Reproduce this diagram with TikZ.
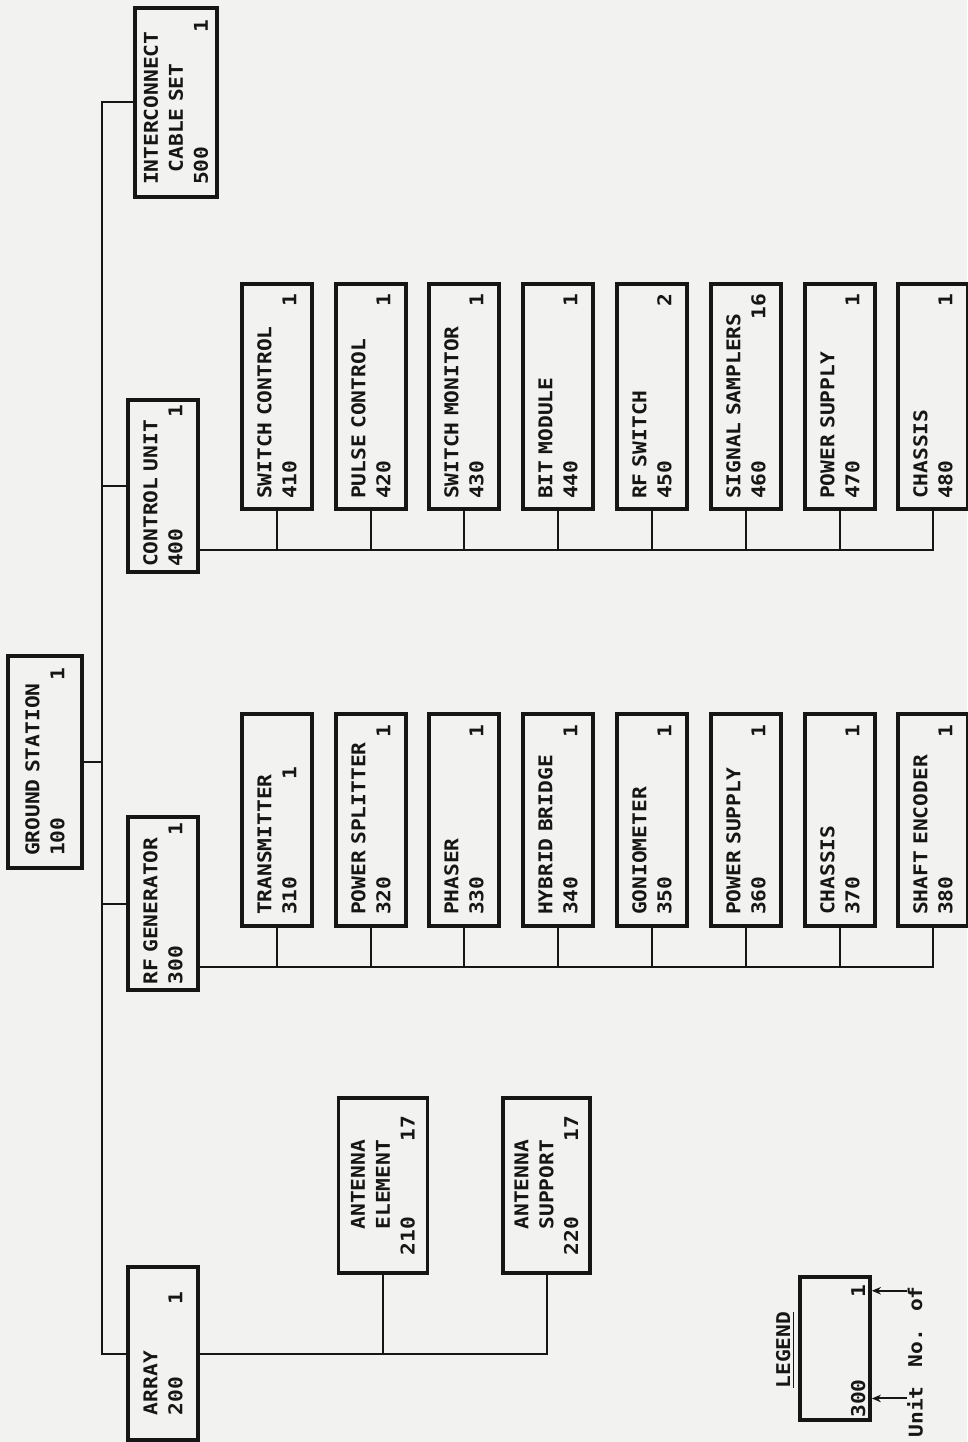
\documentclass[tikz,border=0pt]{standalone}
\usepackage{fontspec}
\usepackage{tikz}
\usetikzlibrary{arrows.meta}
\usepackage{xcolor}
\newfontfamily\partfont[FakeStretch=1.12]{DejaVu Sans Mono Bold}
\definecolor{paper}{RGB}{242,242,240}
\definecolor{ink}{RGB}{22,22,22}

\begin{document}
\begin{tikzpicture}[
    x=0.02cm, y=-0.02cm,
    every node/.style={font=\partfont\fontsize{10.8}{14.2}\selectfont, text=ink},
    partbox/.style={draw=ink, line width=0.075cm, rotate=90, inner sep=0pt, align=left},
    topbox/.style={partbox, minimum width=3.46cm, minimum height=1.4cm, text width=3.24cm},
    rfbox/.style={partbox, minimum width=4.24cm, minimum height=1.4cm, text width=3.8cm},
    ctrlbox/.style={partbox, minimum width=4.5cm, minimum height=1.4cm, text width=4.1cm},
    antbox/.style={partbox, minimum width=3.5cm, minimum height=1.78cm, text width=2.78cm},
    wire/.style={draw=ink, line width=0.04cm},
    pointer/.style={wire, -{Stealth[length=1.8mm, width=1.5mm]}},
    legendtext/.style={rotate=90, inner sep=0pt}
]
    \useasboundingbox (0,0) rectangle (967,1442);
    \fill[paper] (0,0) rectangle (967,1442);

    % Top level
    \node[partbox, minimum width=4.24cm, minimum height=1.48cm, text width=3.76cm] (station) at (45,762) {GROUND STATION\\100\hfill 1};
    \node[partbox, minimum width=3.78cm, minimum height=1.64cm, text width=3.3cm] (cable) at (176,102.5) {INTERCONNECT\\\phantom{I}CABLE SET\\500\hfill 1};
    \node[topbox, minimum width=3.44cm] (ctrl) at (163,486) {CONTROL UNIT\\400\hfill 1};
    \node[topbox] (rfgen) at (163,903.5) {RF GENERATOR\\300\hfill 1};
    \node[topbox, text width=2.46cm] (array) at (163,1353.5) {ARRAY\\200\hfill 1};

    % Control unit parts
    \node[ctrlbox] (swcontrol) at (277,396.5) {SWITCH CONTROL\\410\hfill 1};
    \node[ctrlbox] (pulse) at (371,396.5) {PULSE CONTROL\\420\hfill 1};
    \node[ctrlbox] (monitor) at (464,396.5) {SWITCH MONITOR\\430\hfill 1};
    \node[ctrlbox] (bitmod) at (558,396.5) {BIT MODULE\\440\hfill 1};
    \node[ctrlbox] (rfswitch) at (652,396.5) {RF SWITCH\\450\hfill 2};
    \node[ctrlbox] (samplers) at (746,396.5) {SIGNAL SAMPLERS\\460\hfill 16};
    \node[ctrlbox] (ctrlsupply) at (840,396.5) {POWER SUPPLY\\470\hfill 1};
    \node[ctrlbox] (ctrlchassis) at (933,396.5) {CHASSIS\\480\hfill 1};

    % RF generator parts
    \node[rfbox] (transmitter) at (277,820) {TRANSMITTER\\310\hfill 1\hspace*{2.2em}};
    \node[rfbox] (splitter) at (371,820) {POWER SPLITTER\\320\hfill 1};
    \node[rfbox] (phaser) at (464,820) {PHASER\\330\hfill 1};
    \node[rfbox] (hybrid) at (558,820) {HYBRID BRIDGE\\340\hfill 1};
    \node[rfbox] (gonio) at (652,820) {GONIOMETER\\350\hfill 1};
    \node[rfbox] (rfsupply) at (746,820) {POWER SUPPLY\\360\hfill 1};
    \node[rfbox] (rfchassis) at (840,820) {CHASSIS\\370\hfill 1};
    \node[rfbox] (encoder) at (933,820) {SHAFT ENCODER\\380\hfill 1};

    % Array parts
    \node[antbox] (element) at (383,1185.5) {\phantom{II}ANTENNA\\\phantom{II}ELEMENT\\210\hfill 17};
    \node[antbox, minimum height=1.74cm] (support) at (546.5,1185.5) {\phantom{II}ANTENNA\\\phantom{II}SUPPORT\\220\hfill 17};

    % Trunk
    \coordinate (trunk) at (102,762);
    \draw[wire] (station.south) -- (trunk);
    \draw[wire] (cable.north) -| (trunk) |- (array.north);
    \draw[wire] (ctrl.north) -- (ctrl.north -| trunk);
    \draw[wire] (rfgen.north) -- (rfgen.north -| trunk);

    % Control unit bus
    \coordinate (ctrlbus) at ([yshift=0.48cm]ctrl.south west);
    \draw[wire] (ctrlbus) -| (ctrlchassis.west);
    \draw[wire] (swcontrol.west) -- (swcontrol.west |- ctrlbus);
    \draw[wire] (pulse.west) -- (pulse.west |- ctrlbus);
    \draw[wire] (monitor.west) -- (monitor.west |- ctrlbus);
    \draw[wire] (bitmod.west) -- (bitmod.west |- ctrlbus);
    \draw[wire] (rfswitch.west) -- (rfswitch.west |- ctrlbus);
    \draw[wire] (samplers.west) -- (samplers.west |- ctrlbus);
    \draw[wire] (ctrlsupply.west) -- (ctrlsupply.west |- ctrlbus);

    % RF generator bus
    \coordinate (rfbus) at ([yshift=0.5cm]rfgen.south west);
    \draw[wire] (rfbus) -| (encoder.west);
    \draw[wire] (transmitter.west) -- (transmitter.west |- rfbus);
    \draw[wire] (splitter.west) -- (splitter.west |- rfbus);
    \draw[wire] (phaser.west) -- (phaser.west |- rfbus);
    \draw[wire] (hybrid.west) -- (hybrid.west |- rfbus);
    \draw[wire] (gonio.west) -- (gonio.west |- rfbus);
    \draw[wire] (rfsupply.west) -- (rfsupply.west |- rfbus);
    \draw[wire] (rfchassis.west) -- (rfchassis.west |- rfbus);

    % Array bus
    \draw[wire] (array.south) -| (element.west);
    \draw[wire] (array.south) -| (support.west);

    % Legend
    \node[legendtext] (legendtitle) at (785,1350) {\underline{LEGEND}};
    \node[partbox, minimum width=2.86cm, minimum height=1.4cm] (legend) at (835,1348.5) {};
    \node[legendtext, anchor=base west] (lnum) at (865,1418) {300};
    \node[legendtext, anchor=base east] (lcnt) at (865,1284) {1};
    \node[legendtext, anchor=east] (lunit) at (915,1386) {Unit};
    \node[legendtext, anchor=east] (lof) at (915,1286) {No. of};
    \draw[pointer] (lunit.north east |- lnum) -- (legend.south |- lnum);
    \draw[pointer] (lof.north east |- lcnt) -- (legend.south |- lcnt);

\end{tikzpicture}
\end{document}
